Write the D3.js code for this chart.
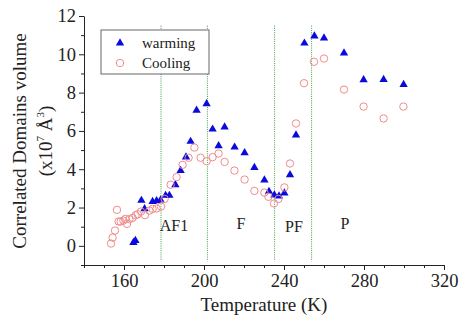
<!DOCTYPE html>
<html>
<head>
<meta charset="utf-8">
<script src="https://cdn.jsdelivr.net/npm/d3@7/dist/d3.min.js"></script>
<style>
  body { margin: 0; background: #fff; }
  svg { display: block; font-family: "Liberation Serif", "DejaVu Serif", serif; }
</style>
</head>
<body>
<div id="chart"></div>
<script>
// Warming (blue triangles)
const warmT = [164.7, 165.7, 168.7, 170.3, 174.3, 176.3, 178.3, 180.8, 182.7, 185.7, 188.3, 191, 193.3, 196.3, 201.3, 204.3, 207.3, 210.3, 215.3, 220.3, 225.2, 230.2, 232.5, 235.2, 237.5, 240.2, 243, 246, 250.2, 255.2, 260, 270, 279.8, 289.8, 299.8];
const warmV = [0.17, 0.28, 2.37, 1.93, 2.31, 2.35, 2.39, 2.63, 2.63, 3.19, 3.93, 4.63, 5.45, 7.07, 7.41, 6.09, 5.22, 6.2, 5.15, 4.86, 4.09, 3.43, 2.84, 2.65, 2.6, 2.75, 3.71, 5.78, 10.58, 10.95, 10.85, 10.06, 8.67, 8.68, 8.42];

// Cooling (pink circles)
const coolT = [153.5, 154.3, 155.5, 156.5, 157.3, 158.3, 159.7, 160.7, 161.5, 162.7, 164.3, 165.8, 166.8, 168.5, 170.5, 172.7, 174.3, 176.3, 178.5, 180.3, 183.3, 186.3, 189.3, 192.3, 195.2, 198.3, 201.3, 204.3, 207.3, 210.3, 215.2, 220.3, 225.2, 230.2, 232.2, 235, 237.2, 240.2, 243, 246, 250, 255, 260, 270, 279.8, 289.8, 299.7];
const coolV = [0.12, 0.43, 0.8, 1.88, 1.27, 1.27, 1.32, 1.41, 1.15, 1.39, 1.46, 1.6, 1.65, 1.79, 1.6, 1.84, 1.93, 1.95, 2.05, 2.45, 3.19, 3.59, 4.23, 4.6, 5.13, 4.6, 4.42, 4.63, 4.82, 4.38, 3.93, 3.46, 2.87, 2.78, 2.56, 2.21, 2.45, 3.05, 4.3, 6.39, 8.49, 9.61, 9.78, 8.16, 7.27, 6.65, 7.27];

// phase boundaries and labels
const boundaries = [178.5, 201.7, 235.3, 253.8];
const phaseNames = ['AF1', 'F', 'PF', 'P'];
const phaseT = [185, 218.5, 245, 270.5];
const phaseV = [0.75, 0.9, 0.7, 0.9];

const xTicks = [160, 200, 240, 280, 320];
const xMinor = [140, 150, 170, 180, 190, 210, 220, 230, 250, 260, 270, 290, 300, 310];
const yTicks = [0, 2, 4, 6, 8, 10, 12];
const yMinor = [-1, 1, 3, 5, 7, 9, 11];

const width = 459, height = 320;
const x = d3.scaleLinear().domain([140, 320]).range([84, 444]);
const y = d3.scaleLinear().domain([-1, 12]).range([265, 16]);

const svg = d3.select('#chart').append('svg')
  .attr('width', width)
  .attr('height', height);

// phase boundary lines
svg.append('g').selectAll('line')
  .data(boundaries)
  .join('line')
  .attr('x1', d => x(d)).attr('x2', d => x(d))
  .attr('y1', y(11.5)).attr('y2', y(-0.8))
  .attr('stroke', '#3f9f3f')
  .attr('stroke-width', 1)
  .attr('stroke-dasharray', '1,1.2');

// axes
svg.append('g')
  .attr('transform', `translate(0,${y(-1)})`)
  .call(d3.axisBottom(x).tickValues(xTicks).tickSize(5).tickSizeOuter(0).tickPadding(4));
svg.append('g')
  .attr('transform', `translate(0,${y(-1)})`)
  .call(d3.axisBottom(x).tickValues(xMinor).tickSize(3).tickFormat(''))
  .select('.domain').remove();

svg.append('g')
  .attr('transform', `translate(${x(140)},0)`)
  .call(d3.axisLeft(y).tickValues(yTicks).tickSize(5).tickSizeOuter(0).tickPadding(3));
svg.append('g')
  .attr('transform', `translate(${x(140)},0)`)
  .call(d3.axisLeft(y).tickValues(yMinor).tickSize(3).tickFormat(''))
  .select('.domain').remove();

svg.selectAll('.domain, .tick line').attr('stroke', '#222');
svg.selectAll('.tick text')
  .attr('font-family', '"Liberation Serif", serif')
  .attr('font-size', '18.5px')
  .attr('fill', '#222');

// series
svg.append('g').selectAll('path')
  .data(warmT.map((t, i) => [t, warmV[i]]))
  .join('path')
  .attr('d', d3.symbol(d3.symbolTriangle, 30))
  .attr('transform', d => `translate(${x(d[0])},${y(d[1])})`)
  .attr('fill', '#0a0adc');

svg.append('g').selectAll('circle')
  .data(coolT.map((t, i) => [t, coolV[i]]))
  .join('circle')
  .attr('cx', d => x(d[0]))
  .attr('cy', d => y(d[1]))
  .attr('r', 3.7)
  .attr('fill', 'none')
  .attr('stroke', '#f08c8c')
  .attr('stroke-width', 1);

// phase labels
svg.append('g').selectAll('text')
  .data(phaseNames)
  .join('text')
  .attr('x', (d, i) => x(phaseT[i]))
  .attr('y', (d, i) => y(phaseV[i]))
  .attr('text-anchor', 'middle')
  .attr('font-size', '16px')
  .attr('fill', '#222')
  .text(d => d);

// legend
const legend = svg.append('g');
legend.append('rect')
  .attr('x', 101).attr('y', 30)
  .attr('width', 108).attr('height', 44)
  .attr('fill', '#fff')
  .attr('stroke', '#666')
  .attr('stroke-width', 1);
legend.append('path')
  .attr('d', d3.symbol(d3.symbolTriangle, 30))
  .attr('transform', 'translate(120,43)')
  .attr('fill', '#0a0adc');
legend.append('circle')
  .attr('cx', 120).attr('cy', 63).attr('r', 3.7)
  .attr('fill', 'none').attr('stroke', '#f08c8c');
legend.append('text')
  .attr('x', 142).attr('y', 48)
  .attr('font-size', '15px').attr('fill', '#222')
  .text('warming');
legend.append('text')
  .attr('x', 142).attr('y', 68)
  .attr('font-size', '15px').attr('fill', '#222')
  .text('Cooling');

// axis titles
svg.append('text')
  .attr('x', 264).attr('y', 311)
  .attr('text-anchor', 'middle')
  .attr('font-size', '19px')
  .attr('fill', '#222')
  .text('Temperature (K)');

svg.append('text')
  .attr('transform', 'translate(26,141) rotate(-90)')
  .attr('text-anchor', 'middle')
  .attr('font-size', '19px')
  .attr('fill', '#222')
  .text('Correlated Domains volume');

const yl2 = svg.append('text')
  .attr('transform', 'translate(52,141) rotate(-90)')
  .attr('text-anchor', 'middle')
  .attr('font-size', '19px')
  .attr('fill', '#222');
yl2.append('tspan').text('(x10');
yl2.append('tspan').attr('font-size', '11px').attr('dy', '-8').text('7');
yl2.append('tspan').attr('dy', '8').text(' Å');
yl2.append('tspan').attr('font-size', '11px').attr('dy', '-8').text('3');
yl2.append('tspan').attr('dy', '8').text(')');
</script>
</body>
</html>
